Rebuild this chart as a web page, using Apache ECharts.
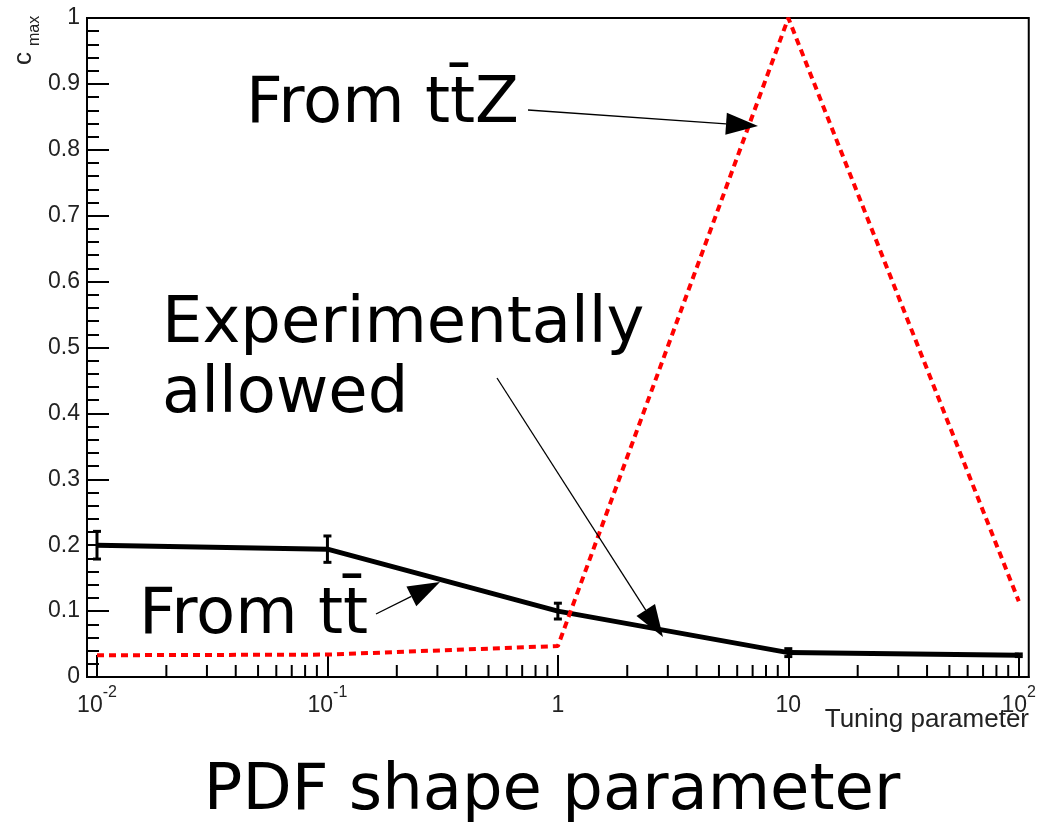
<!DOCTYPE html>
<html>
<head>
<meta charset="utf-8">
<script src="https://cdn.jsdelivr.net/npm/echarts@6/dist/echarts.min.js"></script>
<style>
  html, body { margin: 0; padding: 0; background: #fff; }
  #chart { width: 1039px; height: 822px; }
</style>
</head>
<body>
<div id="chart"></div>
<script>
// Tuning parameter scan points
const tuningParameter = [0.01, 0.1, 1, 10, 100];
// c_max obtained from tt̄ (experimentally allowed), with uncertainties
const cmaxFromTT = [0.2, 0.194, 0.1, 0.037, 0.033];
const cmaxFromTTErr = [0.021, 0.02, 0.012, 0.006, 0.002];
// c_max obtained from tt̄Z
const cmaxFromTTZ = [0.033, 0.034, 0.047, 1.0, 0.115];

// Axis ticks and labels
const xMajorTicks = [0.01, 0.1, 1, 10, 100];
const xTickLabels = ['10^-2', '10^-1', '1', '10', '10^2'];
const xMinorTicks = [];
for (let k = -2; k <= 1; k++) {
  for (let m = 2; m <= 9; m++) xMinorTicks.push(m * Math.pow(10, k));
}

const chart = echarts.init(document.getElementById('chart'), null, { renderer: 'canvas' });

const labelFont = 'Liberation Sans';
const bigFont = 'DejaVu Sans';

function tickLabel(v) {
  let best = 0;
  for (let i = 1; i < xMajorTicks.length; i++) {
    if (Math.abs(Math.log10(xMajorTicks[i]) - Math.log10(v)) < Math.abs(Math.log10(xMajorTicks[best]) - Math.log10(v))) best = i;
  }
  const parts = xTickLabels[best].split('^');
  return parts.length > 1 ? '{b|' + parts[0] + '}{s|' + parts[1] + '}' : '{b|' + parts[0] + '}';
}

// Filled-head arrow built from two end points
function arrow(x1, y1, x2, y2) {
  const len = 32, half = 11;
  const dx = x2 - x1, dy = y2 - y1, d = Math.hypot(dx, dy);
  const ux = dx / d, uy = dy / d;
  const bx = x2 - ux * len, by = y2 - uy * len;
  return [
    { type: 'line', shape: { x1: x1, y1: y1, x2: bx, y2: by }, style: { stroke: '#000', lineWidth: 1.3 }, z: 100 },
    { type: 'polygon', shape: { points: [[x2, y2], [bx - uy * half, by + ux * half], [bx + uy * half, by - ux * half]] },
      style: { fill: '#000' }, z: 100 }
  ];
}

function bigText(text, x, y, align) {
  return {
    type: 'text', x: x, y: y, z: 100,
    style: { text: text, fontFamily: bigFont, fontSize: 64, fill: '#000',
             textAlign: align || 'left', textVerticalAlign: 'middle' }
  };
}

const option = {
  backgroundColor: '#fff',
  animation: false,
  grid: { left: 87, top: 18, width: 944, height: 659, show: true, borderColor: '#000', borderWidth: 2 },
  xAxis: {
    type: 'log',
    logBase: 10,
    min: 0.00905,
    max: 110.5,
    axisLine: { show: true, onZero: false, lineStyle: { color: '#000', width: 2 } },
    axisTick: { show: true, inside: true, length: 22, lineStyle: { color: '#000', width: 2 }, customValues: xMajorTicks },
    splitLine: { show: false },
    axisLabel: {
      customValues: xMajorTicks,
      margin: 8,
      color: '#222',
      fontFamily: labelFont,
      formatter: tickLabel,
      rich: {
        b: { fontFamily: labelFont, fontSize: 23, lineHeight: 32, verticalAlign: 'bottom', color: '#222' },
        s: { fontFamily: labelFont, fontSize: 16, lineHeight: 16, verticalAlign: 'top', color: '#222' }
      }
    }
  },
  yAxis: {
    type: 'value',
    min: 0,
    max: 1,
    interval: 0.1,
    axisLine: { show: true, lineStyle: { color: '#000', width: 2 } },
    axisTick: { show: true, inside: true, length: 22, lineStyle: { color: '#000', width: 2 } },
    minorTick: { show: true, splitNumber: 5, length: 12, lineStyle: { color: '#000', width: 2 } },
    splitLine: { show: false },
    axisLabel: { margin: 7, color: '#222', fontFamily: labelFont, fontSize: 23 }
  },
  series: [
    {
      name: 'x minor ticks',
      type: 'custom',
      silent: true,
      data: xMinorTicks.map(v => [v, 0]),
      renderItem: function (params, api) {
        const p = api.coord([api.value(0), 0]);
        return { type: 'line', shape: { x1: p[0], y1: p[1], x2: p[0], y2: p[1] - 12 },
                 style: { stroke: '#000', lineWidth: 2 } };
      }
    },
    {
      name: 'From tt̄',
      type: 'line',
      data: tuningParameter.map((x, i) => [x, cmaxFromTT[i]]),
      symbol: 'none',
      lineStyle: { color: '#000', width: 5 },
      z: 3
    },
    {
      name: 'From tt̄ errors',
      type: 'custom',
      data: tuningParameter.map((x, i) => [x, cmaxFromTT[i], cmaxFromTTErr[i]]),
      encode: { x: 0, y: 1 },
      z: 4,
      renderItem: function (params, api) {
        const x = api.value(0), y = api.value(1), e = api.value(2);
        const t = api.coord([x, y + e]), b = api.coord([x, y - e]);
        const c = 4;
        const st = { stroke: '#000', lineWidth: 3 };
        return { type: 'group', children: [
          { type: 'line', shape: { x1: t[0], y1: t[1], x2: b[0], y2: b[1] }, style: st },
          { type: 'line', shape: { x1: t[0] - c, y1: t[1], x2: t[0] + c, y2: t[1] }, style: st },
          { type: 'line', shape: { x1: b[0] - c, y1: b[1], x2: b[0] + c, y2: b[1] }, style: st }
        ] };
      }
    },
    {
      name: 'From tt̄Z',
      type: 'line',
      data: tuningParameter.map((x, i) => [x, cmaxFromTTZ[i]]),
      symbol: 'none',
      lineStyle: { color: '#ff0000', width: 4, type: [7, 5], cap: 'butt' },
      z: 5
    }
  ],
  graphic: [
    // y-axis title c_max
    { type: 'text', x: 24, y: 65, rotation: Math.PI / 2, z: 100,
      style: { text: 'c', fontFamily: labelFont, fontSize: 26, fill: '#222', textAlign: 'left', textVerticalAlign: 'middle' } },
    { type: 'text', x: 35, y: 46, rotation: Math.PI / 2, z: 100,
      style: { text: 'max', fontFamily: labelFont, fontSize: 16, fill: '#222', textAlign: 'left', textVerticalAlign: 'middle' } },
    // x-axis title
    { type: 'text', x: 1029, y: 720, z: 100,
      style: { text: 'Tuning parameter', fontFamily: labelFont, fontSize: 26, fill: '#222', textAlign: 'right', textVerticalAlign: 'middle' } },
    bigText('From t\u0074\u0304Z', 246, 105),
    bigText('Experimentally', 162, 325),
    bigText('allowed', 162, 395),
    bigText('From t\u0074\u0304', 139, 616),
    bigText('PDF shape parameter', 552, 792, 'center'),
    ...arrow(528, 110, 758, 126),
    ...arrow(497, 378, 663, 637),
    ...arrow(376, 614, 440, 582)
  ]
};

chart.setOption(option);
</script>
</body>
</html>
